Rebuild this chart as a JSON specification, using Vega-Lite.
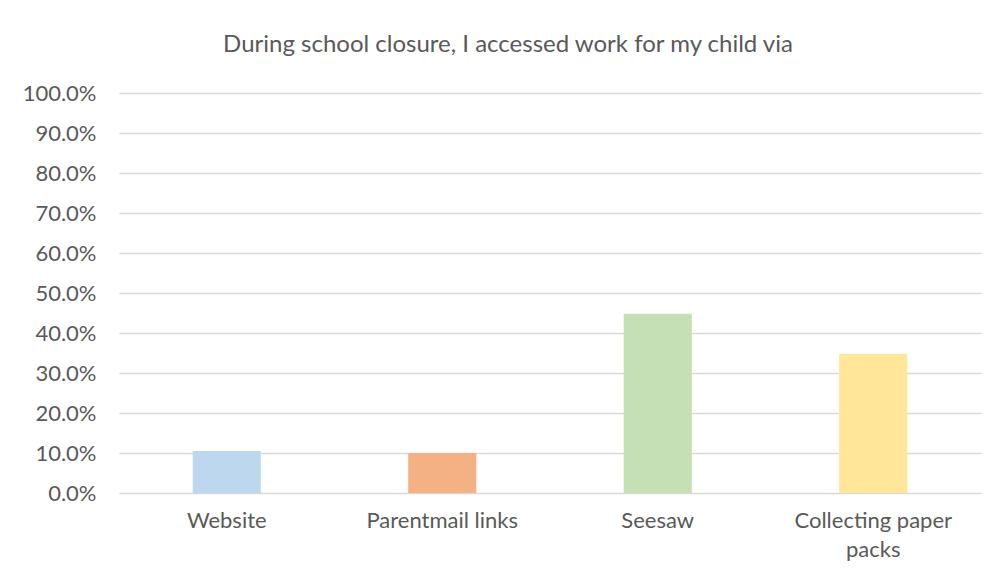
{
  "$schema": "https://vega.github.io/schema/vega-lite/v6.json",
  "width": 862,
  "height": 400,
  "autosize": {"type": "none"},
  "padding": {"left": 119, "top": 93, "right": 19, "bottom": 86},
  "background": "#ffffff",
  "title": {
    "text": "During school closure, I accessed work for my child via",
    "font": "Lato",
    "fontSize": 24,
    "fontWeight": "normal",
    "color": "#595959",
    "anchor": "middle",
    "dx": -42,
    "offset": 25
  },
  "data": {
    "values": [
      {"method": "Website", "share": 0.105, "order": 1},
      {"method": "Parentmail links", "share": 0.1, "order": 2},
      {"method": "Seesaw", "share": 0.448, "order": 3},
      {"method": "Collecting paper packs", "share": 0.348, "order": 4}
    ]
  },
  "mark": {"type": "bar"},
  "encoding": {
    "x": {
      "field": "method",
      "type": "nominal",
      "sort": {"field": "order"},
      "scale": {"paddingInner": 0.684, "paddingOuter": 0.342},
      "axis": {
        "title": null,
        "labelAngle": 0,
        "labelFont": "Lato",
        "labelFontSize": 22,
        "labelColor": "#595959",
        "labelPadding": 17,
        "ticks": false,
        "domain": false,
        "labelExpr": "datum.value == 'Collecting paper packs' ? ['Collecting paper', 'packs'] : datum.value",
        "labelLineHeight": 29
      }
    },
    "y": {
      "field": "share",
      "type": "quantitative",
      "scale": {"domain": [0, 1]},
      "axis": {
        "title": null,
        "format": ".1%",
        "values": [0, 0.1, 0.2, 0.3, 0.4, 0.5, 0.6, 0.7, 0.8, 0.9, 1.0],
        "labelFont": "Lato",
        "labelFontSize": 22,
        "labelColor": "#595959",
        "labelPadding": 23,
        "ticks": false,
        "domain": false,
        "grid": true,
        "gridColor": "#d9d9d9",
        "gridWidth": 1.3
      }
    },
    "color": {
      "field": "method",
      "type": "nominal",
      "sort": {"field": "order"},
      "scale": {
        "domain": ["Website", "Parentmail links", "Seesaw", "Collecting paper packs"],
        "range": ["#bdd7ee", "#f4b183", "#c5e0b4", "#ffe699"]
      },
      "legend": null
    }
  },
  "config": {"view": {"stroke": null}}
}
